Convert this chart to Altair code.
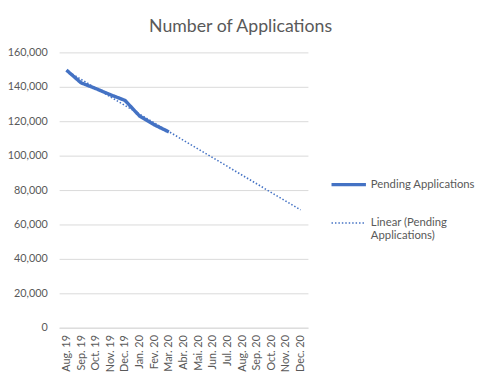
import altair as alt
import pandas as pd

months = ["Aug. 19", "Sep. 19", "Oct. 19", "Nov. 19", "Dec. 19", "Jan. 20",
          "Fev. 20", "Mar. 20", "Abr. 20", "Mai. 20", "Jun. 20", "Jul. 20",
          "Aug. 20", "Sep. 20", "Oct. 20", "Nov. 20", "Dec. 20"]
pending = [149700, 142300, 139000, 135400, 132100, 123000, 117900, 113800]

series_main = "Pending Applications"
series_trend = "Linear (Pending Applications)"

df = pd.DataFrame({
    "idx": list(range(len(pending))),
    "month": months[:len(pending)],
    "value": pending,
    "series": series_main,
})

FONT = "Lato"
GRAY = "#595959"
BLUE = "#4472C4"

label_js = "[" + ",".join("'" + m + "'" for m in months) + "][datum.value]"

x = alt.X("idx:Q",
          scale=alt.Scale(domain=[-0.5, len(months) - 0.5], nice=False, zero=False),
          axis=alt.Axis(values=list(range(len(months))), labelExpr=label_js,
                        labelAngle=-90, title=None, grid=False, ticks=False,
                        domainColor="#D9D9D9", labelPadding=7,
                        labelFontSize=11, labelColor=GRAY, labelFont=FONT))
y = alt.Y("value:Q",
          scale=alt.Scale(domain=[0, 160000], nice=False),
          axis=alt.Axis(values=list(range(0, 160001, 20000)), format=",.0f",
                        title=None, domain=False, ticks=False, gridColor="#D9D9D9",
                        labelPadding=12, labelFontSize=11, labelColor=GRAY,
                        labelFont=FONT))

legend = alt.Legend(title=None, orient="none", legendX=275, legendY=115,
                    symbolType="stroke", symbolSize=1225, rowPadding=13,
                    labelFontSize=11.5, labelColor=GRAY, labelFont=FONT,
                    labelLimit=300, labelOffset=3,
                    labelExpr="datum.label == '" + series_trend +
                              "' ? ['Linear (Pending', 'Applications)'] : datum.label")

color = alt.Color("series:N",
                  scale=alt.Scale(domain=[series_main, series_trend], range=[BLUE, BLUE]),
                  legend=legend)
dash = alt.StrokeDash("series:N",
                      scale=alt.Scale(domain=[series_main, series_trend],
                                      range=[[1, 0], [1.5, 2]]),
                      legend=legend)
sw = alt.StrokeWidth("series:N",
                     scale=alt.Scale(domain=[series_main, series_trend], range=[3.5, 1.6]),
                     legend=legend)

base = alt.Chart(df)

main = base.mark_line().encode(x=x, y=y, color=color, strokeDash=dash, strokeWidth=sw)

trend = base.transform_regression(
    "idx", "value", extent=[0, len(months) - 1]
).transform_calculate(
    series="'" + series_trend + "'"
).mark_line().encode(x=x, y=y, color=color, strokeDash=dash, strokeWidth=sw)

chart = alt.layer(trend, main).properties(
    width=253, height=280,
    autosize=alt.AutoSizeParams(type="none"),
    padding={"left": 52, "top": 42, "right": 175, "bottom": 49},
    title=alt.TitleParams("Number of  Applications", font=FONT, fontSize=18,
                          fontWeight="normal", color=GRAY, anchor="middle",
                          dx=58, offset=11),
).configure_view(stroke=None)

chart.save("out.html", embed_options={"renderer": "svg", "actions": False})
